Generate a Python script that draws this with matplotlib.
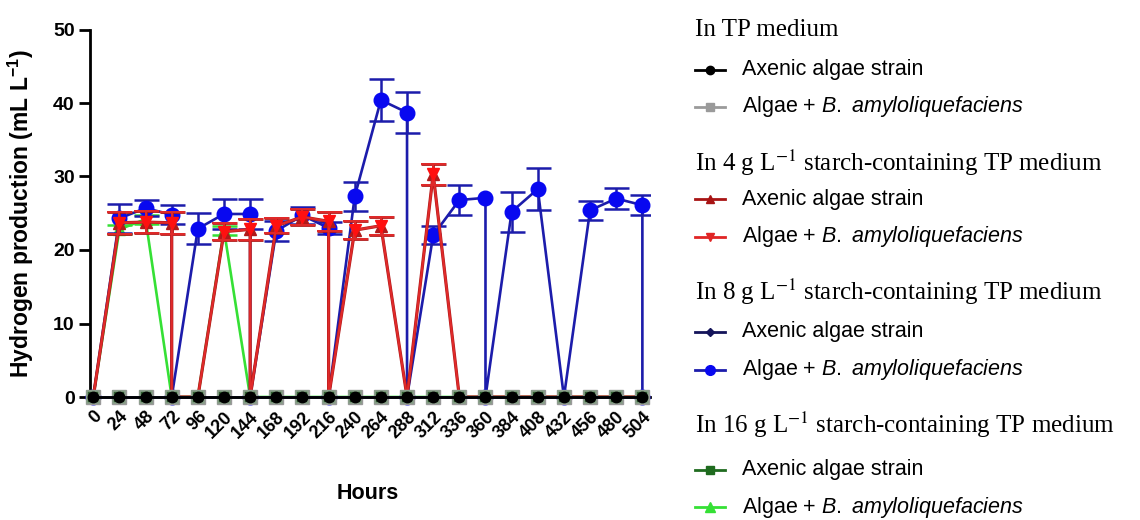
import numpy as np
import matplotlib
matplotlib.use('Agg')
import matplotlib.pyplot as plt
from matplotlib.lines import Line2D

# ----------- data -----------
hours = list(range(0, 505, 24))  # 0 ... 504
zeros = [0] * len(hours)

# 8 g/L starch, algae + B. amyloliquefaciens (blue), repeated hours = drop to zero at same time
hours_b8 = [0, 24, 48, 72, 72, 96, 120, 144, 144, 168, 192, 216, 216, 240, 264, 288, 288,
            312, 336, 360, 360, 384, 408, 432, 456, 480, 504, 504]
h2_b8 = [0, 24.3, 25.7, 24.8, 0, 22.9, 24.9, 24.9, 0, 22.6, 24.7, 23.0, 0, 27.3, 40.4, 38.7, 0,
         22.0, 26.8, 27.1, 0, 25.2, 28.3, 0, 25.4, 27.0, 26.1, 0]
sd_b8 = [0, 2.0, 1.1, 1.3, 0, 2.1, 2.0, 2.0, 0, 1.4, 1.2, 0.8, 0, 2.0, 2.8, 2.8, 0,
         1.2, 2.0, 0, 0, 2.7, 2.8, 0, 1.3, 1.4, 1.4, 0]

# 4 g/L starch (red / dark red)
hours_r4 = [0, 24, 48, 72, 72, 96, 120, 144, 144, 168, 192, 216, 216, 240, 264, 288, 312, 336,
            360, 384, 408, 432, 456, 480, 504]
h2_r4 = [0, 23.7, 23.8, 23.7, 0, 0, 22.5, 22.8, 0, 23.3, 24.5, 23.9, 0, 22.7, 23.3, 0, 30.3, 0,
         0, 0, 0, 0, 0, 0, 0]
sd_r4 = [0, 1.5, 1.5, 1.5, 0, 0, 1.2, 1.4, 0, 1.0, 1.1, 1.3, 0, 1.2, 1.2, 0, 1.4, 0,
         0, 0, 0, 0, 0, 0, 0]
h2_r4_axenic = [0, 23.7, 23.8, 23.7, 0, 0, 22.5, 22.8, 0, 23.3, 24.5, 23.9, 0, 22.7, 23.3, 0, 30.3, 0,
                0, 0, 0, 0, 0, 0, 0]

# 16 g/L starch, algae + B. amyloliquefaciens (green)
h2_g16 = [0, 22.8, 24.2, 0, 0, 22.7, 0, 0, 0, 0, 0, 0, 0, 0, 0, 0, 0, 0, 0, 0, 0, 0]
sd_g16 = [0, 0.6, 0.6, 0, 0, 0.6, 0, 0, 0, 0, 0, 0, 0, 0, 0, 0, 0, 0, 0, 0, 0, 0]

groups = ['In TP medium',
          'In 4 g L$^{-1}$ starch-containing TP medium',
          'In 8 g L$^{-1}$ starch-containing TP medium',
          'In 16 g L$^{-1}$ starch-containing TP medium']
entry_axenic = 'Axenic algae strain'
entry_mixed = 'Algae + $\\it{B.}$ $\\it{amyloliquefaciens}$'

# ----------- figure -----------
plt.rcParams['font.family'] = ['Liberation Sans', 'DejaVu Sans']
plt.rcParams['mathtext.fontset'] = 'custom'
plt.rcParams['mathtext.rm'] = 'Liberation Sans'
plt.rcParams['mathtext.it'] = 'Liberation Sans:italic'
plt.rcParams['mathtext.bf'] = 'Liberation Sans:bold'

W, H = 1140, 520
fig = plt.figure(figsize=(W / 100, H / 100), dpi=100)
ax = fig.add_axes([90 / W, (H - 397) / H, 560 / W, 367.5 / H])

lw = 1.9


def series(x, y, sd, color, ecolor, z, elw=1.8, **kw):
    # line + markers, then error bars only where an SD was read
    ax.plot(x, y, color=color, lw=kw.pop('lw', lw), clip_on=False, zorder=z, **kw)
    x, y, sd = np.array(x), np.array(y), np.array(sd)
    m = sd > 0
    ax.errorbar(x[m], y[m], yerr=sd[m], fmt='none', ecolor=ecolor, elinewidth=elw,
                capsize=9, capthick=elw, zorder=z - 0.1)


# baseline series (all zero)
ax.plot(hours, zeros, color='#9a9a9a', marker='s', ms=10, lw=lw, clip_on=False, zorder=6)
ax.plot(hours, zeros, color='#2f5f2f', marker='s', ms=9, mec='#8aa08a', mew=1.2, lw=lw, clip_on=False, zorder=7)
ax.plot(hours, zeros, color='#14145a', marker='D', ms=5, lw=lw, clip_on=False, zorder=8)
ax.plot(hours, zeros, color='black', marker='o', ms=7.5, lw=lw, clip_on=False, zorder=9)

# 8 g/L blue
series(hours_b8, h2_b8, sd_b8, '#1c1cab', '#1c1cab', 3, marker='o', ms=10.5, mfc='#0808f0', mec='#0808f0')
# 16 g/L green
series(hours, h2_g16, sd_g16, '#35e035', '#35e035', 2, marker='^', ms=8)
# 4 g/L red
series(hours_r4, h2_r4_axenic, sd_r4, '#b01a1a', '#b01a1a', 4, elw=2.0, marker='^', ms=9, lw=lw + 0.4)
series(hours_r4, h2_r4, sd_r4, '#e02a2a', '#e02a2a', 5, elw=1.4, marker='v', ms=8,
       mfc='#ff1010', mec='#ff1010', lw=lw - 0.4)

ax.set_xlim(-3, 511)
ax.set_ylim(0, 50)
ax.set_xticks(hours)
ax.set_xticklabels([str(h) for h in hours], rotation=45, ha='right', rotation_mode='anchor',
                   fontsize=13, fontweight='bold')
ax.set_yticks([0, 10, 20, 30, 40, 50])
ax.set_yticklabels(['0', '10', '20', '30', '40', '50'], fontsize=14, fontweight='bold')
ax.tick_params(axis='y', length=8, width=2, pad=3)
ax.tick_params(axis='x', length=5, width=2, pad=3)
for s in ['top', 'right']:
    ax.spines[s].set_visible(False)
ax.spines['left'].set_linewidth(2)
ax.spines['bottom'].set_linewidth(2)

ax.set_ylabel('Hydrogen production (mL L$^{\\mathbf{-1}}$)', fontsize=16.5, fontweight='bold')
ax.yaxis.set_label_coords(-0.097, 0.5)
ax.set_xlabel('Hours', fontsize=15.5, fontweight='bold')
ax.xaxis.set_label_coords(0.496, -0.235)

# ----------- legend, drawn by hand -----------
def fx(px):
    return px / W

def fy(py):
    return 1 - py / H

header_y = [30, 163, 292, 425]
entry_y = [(70, 107), (199, 237), (332, 370), (470, 507)]
entry_style = [
    (dict(color='black', marker='o', ms=6), dict(color='#9a9a9a', marker='s', ms=6)),
    (dict(color='#a81414', marker='^', ms=6), dict(color='#e02525', marker='v', ms=6)),
    (dict(color='#14145a', marker='D', ms=4), dict(color='#1c1cab', marker='o', ms=7, mfc='#0808f0', mec='#0808f0')),
    (dict(color='#1f6b1f', marker='s', ms=6), dict(color='#35e035', marker='^', ms=7)),
]
for g, name in enumerate(groups):
    fig.text(fx(695), fy(header_y[g]), name, family='Liberation Serif', fontsize=18,
             va='center', ha='left',
             math_fontfamily='stix')
    for k, label in enumerate([entry_axenic, entry_mixed]):
        yy = fy(entry_y[g][k])
        fig.add_artist(Line2D([fx(695), fx(710), fx(725)], [yy, yy, yy], lw=2, markevery=[1],
                              **entry_style[g][k]))
        fig.text(fx(742), yy, label, fontsize=15.5, va='center', ha='left')

fig.savefig('out.png', dpi=100)
